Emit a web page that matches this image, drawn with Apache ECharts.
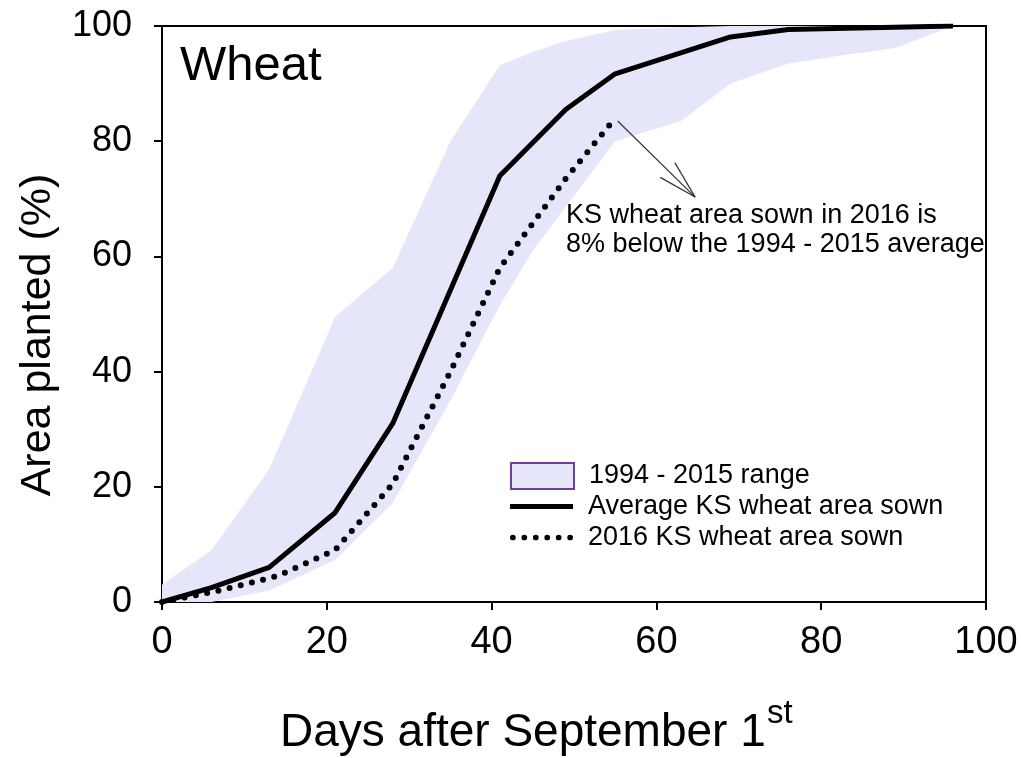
<!DOCTYPE html>
<html>
<head>
<meta charset="utf-8">
<script src="https://cdn.jsdelivr.net/npm/echarts@6/dist/echarts.min.js"></script>
<style>
html,body{margin:0;padding:0;background:#fff;}
#c{width:1021px;height:758px;}
</style>
</head>
<body>
<div id="c"></div>
<script>
// ---- data ----
var rangeDays = [0, 6, 13, 21, 28, 35, 41, 45, 49, 55, 63, 69, 76, 83, 89, 96];
var rangeLow  = [0, 0, 2, 7.3, 17.2, 35, 51.5, 61, 68.6, 80, 83.5, 90, 93.5, 95, 96.2, 100];
var rangeHigh = [3, 9, 23, 49.5, 58, 80, 93.2, 95.5, 97.4, 99.3, 99.8, 100, 100, 100, 100, 100];

var avgDays   = [0, 6, 13, 21, 28, 41, 49, 55, 69, 76, 96];
var avgValues = [0, 2.5, 6, 15.5, 31, 74, 85.5, 91.7, 98.1, 99.4, 100];

var sownDays   = [0, 7, 14, 21, 28, 35, 41, 49, 55];
var sownValues = [0, 2, 4.5, 9, 20.5, 40, 58, 73.5, 84];

var xTicks = [0, 20, 40, 60, 80, 100];
var yTicks = [0, 20, 40, 60, 80, 100];

var arrowFrom = [55.3, 83.5];
var arrowTo   = [64.7, 70.3];

var nameRange = '1994 - 2015 range';
var nameAvg = 'Average KS wheat area sown';
var nameSown = '2016 KS wheat area sown';
var noteText = 'KS wheat area sown in 2016 is\n8% below the 1994 - 2015 average';

// ---- build ----
var FONT = '"Liberation Sans", Arial, sans-serif';
function pairs(xs, ys) { return xs.map(function (x, i) { return [x, ys[i]]; }); }
var bandRows = rangeDays.map(function (x, i) { return [x, rangeLow[i], rangeHigh[i]]; });

var dotsPath = 'path://';
for (var i = 0; i < 6; i++) {
  var cx = 3 + 12 * i;
  dotsPath += 'M' + (cx - 3) + ',3 a3,3 0 1,0 6,0 a3,3 0 1,0 -6,0 Z ';
}

function renderBand(params, api) {
  if (params.dataIndex !== 0) return null;
  var pts = [];
  for (var k = 0; k < bandRows.length; k++) pts.push(api.coord([bandRows[k][0], bandRows[k][2]]));
  for (var k2 = bandRows.length - 1; k2 >= 0; k2--) pts.push(api.coord([bandRows[k2][0], bandRows[k2][1]]));
  return {type: 'polygon', shape: {points: pts}, style: {fill: '#e6e6fa', stroke: null}};
}

var chart = echarts.init(document.getElementById('c'), null, {renderer: 'canvas'});
var legendText = {fontSize: 27, fontFamily: FONT, color: '#000', padding: [0, 0, 0, 10]};
var option = {
  backgroundColor: '#fff',
  animation: false,
  grid: {left: 162, right: 35, top: 26, bottom: 156, show: true, borderColor: '#000', borderWidth: 2, backgroundColor: 'transparent'},
  xAxis: {
    type: 'value', min: 0, max: 100, interval: 20,
    axisLine: {show: true, lineStyle: {color: '#000', width: 2}},
    axisTick: {show: true, length: 8, lineStyle: {color: '#000', width: 2}},
    axisLabel: {fontSize: 38, fontFamily: FONT, color: '#000', margin: 22,
      formatter: function (v) { return xTicks.indexOf(v) >= 0 ? String(v) : ''; }},
    splitLine: {show: false}
  },
  yAxis: {
    type: 'value', min: 0, max: 100, interval: 20,
    axisLine: {show: true, lineStyle: {color: '#000', width: 2}},
    axisTick: {show: true, length: 8, lineStyle: {color: '#000', width: 2}},
    axisLabel: {fontSize: 36, fontFamily: FONT, color: '#000', margin: 30,
      formatter: function (v) { return yTicks.indexOf(v) >= 0 ? String(v) : ''; }},
    splitLine: {show: false}
  },
  legend: [
    {data: [{name: nameRange, icon: 'rect'}], left: 510, top: 462, itemWidth: 63, itemHeight: 26,
     itemStyle: {color: '#e6e6fa', borderColor: '#6a3fa0', borderWidth: 2}, textStyle: legendText, selectedMode: false, padding: 0},
    {data: [{name: nameAvg, icon: 'rect'}], left: 510, top: 493, itemWidth: 63, itemHeight: 5,
     itemStyle: {color: '#000', borderWidth: 0}, textStyle: legendText, selectedMode: false, padding: 0},
    {data: [{name: nameSown, icon: dotsPath}], left: 510, top: 524, itemWidth: 63, itemHeight: 6,
     itemStyle: {color: '#000', borderWidth: 0}, textStyle: legendText, selectedMode: false, padding: 0}
  ],
  series: [
    {name: nameRange, type: 'custom', coordinateSystem: 'cartesian2d', data: bandRows,
     encode: {x: 0, y: [1, 2]}, renderItem: renderBand, silent: true, itemStyle: {color: '#e6e6fa'}, z: 1, clip: true},
    {name: nameAvg, type: 'line', data: pairs(avgDays, avgValues), symbol: 'none',
     lineStyle: {color: '#000', width: 5, join: 'round'}, itemStyle: {color: '#000'}, z: 3},
    {name: nameSown, type: 'line', data: pairs(sownDays, sownValues), symbol: 'none',
     lineStyle: {color: '#000', width: 6, type: [0, 11.5], cap: 'round', join: 'round'}, itemStyle: {color: '#000'}, z: 3}
  ],
  graphic: [
    {type: 'text', left: 180, top: 42, z: 10, style: {text: 'Wheat', fontSize: 49, fontFamily: FONT, fill: '#000'}},
    {type: 'text', left: 566, top: 201, z: 10, style: {text: noteText, fontSize: 27, lineHeight: 29, fontFamily: FONT, fill: '#000'}},
    {type: 'text', x: 38, y: 335, rotation: Math.PI / 2, z: 10,
     style: {text: 'Area planted (%)', fontSize: 43, fontFamily: FONT, fill: '#000', align: 'center', verticalAlign: 'middle'}},
    {type: 'text', left: 280, top: 710, z: 10,
     style: {text: 'Days after September 1', fontSize: 46, fontFamily: FONT, fill: '#000'}},
    {type: 'text', left: 767, top: 697, z: 10,
     style: {text: 'st', fontSize: 33, fontFamily: FONT, fill: '#000'}}
  ]
};
chart.setOption(option);

// annotation arrow placed through the chart's own coordinate system
var p0 = chart.convertToPixel({gridIndex: 0}, arrowFrom);
var p1 = chart.convertToPixel({gridIndex: 0}, arrowTo);
var dx = p0[0] - p1[0], dy = p0[1] - p1[1];
var len = Math.sqrt(dx * dx + dy * dy);
var ux = dx / len, uy = dy / len;
function rot(a) {
  var c = Math.cos(a), s = Math.sin(a);
  return [p1[0] + 40 * (ux * c - uy * s), p1[1] + 40 * (ux * s + uy * c)];
}
var b1 = rot(15 * Math.PI / 180), b2 = rot(-15 * Math.PI / 180);
var arrowStyle = {stroke: '#333', lineWidth: 1.2};
option.graphic.push(
  {type: 'line', z: 10, shape: {x1: p0[0], y1: p0[1], x2: p1[0], y2: p1[1]}, style: arrowStyle},
  {type: 'line', z: 10, shape: {x1: p1[0], y1: p1[1], x2: b1[0], y2: b1[1]}, style: arrowStyle},
  {type: 'line', z: 10, shape: {x1: p1[0], y1: p1[1], x2: b2[0], y2: b2[1]}, style: arrowStyle}
);
chart.setOption({graphic: option.graphic});
</script>
</body>
</html>
